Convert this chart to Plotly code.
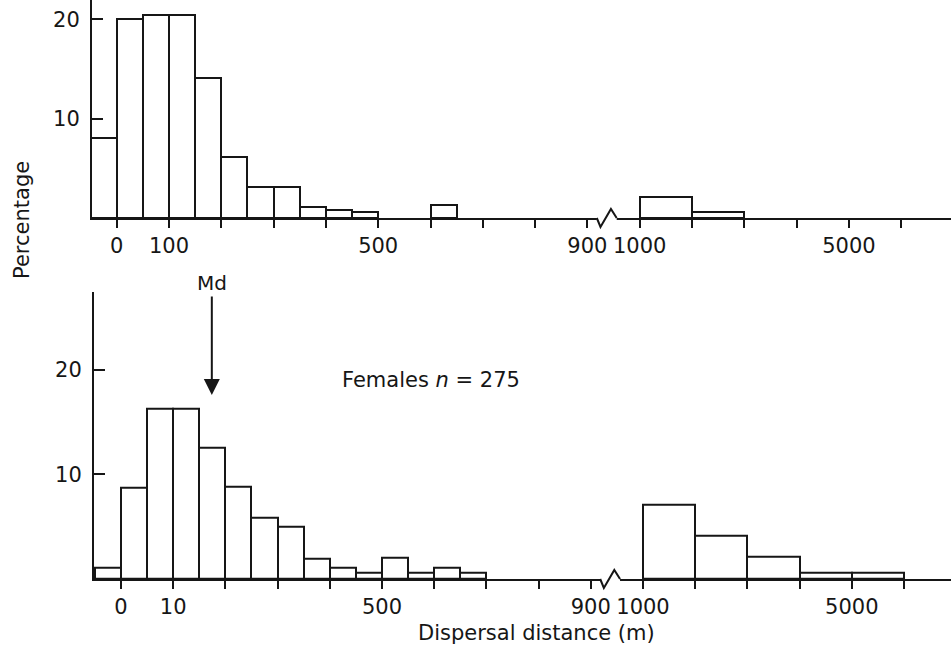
import plotly.graph_objects as go

# ---------------- data ----------------
# x positions are in "tick units" of the broken, non-linear distance axis
TICK_POS = list(range(16))
MALE_TICK_TEXT = ["0", "100", "", "", "", "500", "", "", "", "900", "1000", "", "", "", "5000", ""]
FEMALE_TICK_TEXT = ["0", "10", "", "", "", "500", "", "", "", "900", "1000", "", "", "", "5000", ""]

male_bin_left = [-0.5, 0.0, 0.5, 1.0, 1.5, 2.0, 2.5, 3.0, 3.5, 4.0, 4.5, 6.0, 10, 11]
male_bin_width = [0.5, 0.5, 0.5, 0.5, 0.5, 0.5, 0.5, 0.5, 0.5, 0.5, 0.5, 0.5, 1, 1]
male_pct = [8.1, 20.0, 20.4, 20.4, 14.1, 6.1, 3.1, 3.1, 1.1, 0.8, 0.6, 1.35, 2.1, 0.6]

female_bin_left = [-0.5, 0.0, 0.5, 1.0, 1.5, 2.0, 2.5, 3.0, 3.5, 4.0, 4.5, 5.0, 5.5, 6.0, 6.5,
                   10, 11, 12, 13, 14]
female_bin_width = [0.5] * 15 + [1, 1, 1, 1, 1]
female_pct = [1.1, 8.7, 16.3, 16.3, 12.6, 8.8, 5.9, 5.0, 1.9, 1.1, 0.6, 2.0, 0.6, 1.1, 0.6,
              7.1, 4.1, 2.1, 0.6, 0.6]

female_median_pos = 1.74          # "Md" arrow position on the female axis
female_n = 275
axis_break = [9.18, 9.25, 9.45, 9.56]   # zig-zag break between 900 and 1000

# ---------------- styling / layout ----------------
W, H = 951, 648
INK = "#161616"
FONT = "DejaVu Sans"


def fx(p):
    return p / W


def fy(p):
    return 1 - p / H


def centers(left, width):
    return [l + w / 2 for l, w in zip(left, width)]


fig = go.Figure()
bar_style = dict(color="white", line=dict(color=INK, width=2))
fig.add_trace(go.Bar(x=centers(male_bin_left, male_bin_width), y=male_pct, width=male_bin_width,
                     marker=bar_style, xaxis="x", yaxis="y", showlegend=False, hoverinfo="skip"))
fig.add_trace(go.Bar(x=centers(female_bin_left, female_bin_width), y=female_pct, width=female_bin_width,
                     marker=bar_style, xaxis="x2", yaxis="y2", showlegend=False, hoverinfo="skip"))

tickfont = dict(family=FONT, size=21, color=INK)
common_x = dict(showline=True, linewidth=2, linecolor=INK, ticks="outside", ticklen=8,
                tickwidth=2, tickcolor=INK, tickvals=TICK_POS, showgrid=False, zeroline=False,
                tickfont=tickfont, automargin=False, fixedrange=True)
common_y = dict(showline=True, linewidth=2, linecolor=INK, ticks="inside", ticklen=11,
                tickwidth=2, tickcolor=INK, tickvals=[10, 20], showgrid=False, zeroline=False,
                tickfont=tickfont, automargin=False, ticklabelstandoff=6, fixedrange=True)

# panel pixel geometry
top_base, top_left = 218, 92
bot_base, bot_top, bot_left = 579, 291.7, 94

fig.update_layout(
    width=W, height=H, margin=dict(l=0, r=0, t=0, b=0),
    paper_bgcolor="white", plot_bgcolor="white", bargap=0,
    xaxis=dict(domain=[fx(top_left), 1], range=[-0.472, 15.952], anchor="y",
               ticktext=MALE_TICK_TEXT, **common_x),
    yaxis=dict(domain=[fy(top_base), 1], range=[0, 21.95], anchor="x", **common_y),
    xaxis2=dict(domain=[fx(bot_left), 1], range=[-0.517, 15.9], anchor="y2",
                ticktext=FEMALE_TICK_TEXT, **common_x),
    yaxis2=dict(domain=[fy(bot_base), fy(bot_top)], range=[0, 27.47], anchor="x2", **common_y),
)

# axis break zig-zags
shapes = []
for xref, base in (("x", top_base), ("x2", bot_base)):
    yb = fy(base)
    d = 9 / H
    shapes.append(dict(type="rect", xref=xref, yref="paper", x0=axis_break[0], x1=axis_break[3],
                       y0=yb - 3 / H, y1=yb + 3 / H, fillcolor="white", line=dict(width=0),
                       layer="above"))
    path = (f"M {axis_break[0]},{yb} L {axis_break[1]},{yb - d} "
            f"L {axis_break[2]},{yb + d} L {axis_break[3]},{yb}")
    shapes.append(dict(type="path", xref=xref, yref="paper", path=path,
                       line=dict(color=INK, width=2), layer="above"))
fig.update_layout(shapes=shapes)

big = dict(family=FONT, size=21, color=INK)
fig.update_layout(annotations=[
    dict(text="Percentage", x=fx(22), y=fy(220), xref="paper", yref="paper", textangle=-90,
         showarrow=False, font=big, xanchor="center", yanchor="middle"),
    dict(text="Dispersal distance (m)", x=fx(536), y=fy(633), xref="paper", yref="paper",
         showarrow=False, font=big, xanchor="center", yanchor="middle"),
    dict(text=f"Females <i>n</i> = {female_n}", x=fx(431), y=fy(380), xref="paper", yref="paper",
         showarrow=False, font=big, xanchor="center", yanchor="middle"),
    dict(text="Md", x=female_median_pos, y=17.6, xref="x2", yref="y2", ax=0, ay=-112,
         showarrow=True, arrowhead=2, arrowsize=1.6, arrowwidth=2, arrowcolor=INK,
         font=dict(family=FONT, size=20, color=INK)),
])

fig.write_html("out.html", config={"displayModeBar": False},
               post_script="document.body.style.margin='0';")
